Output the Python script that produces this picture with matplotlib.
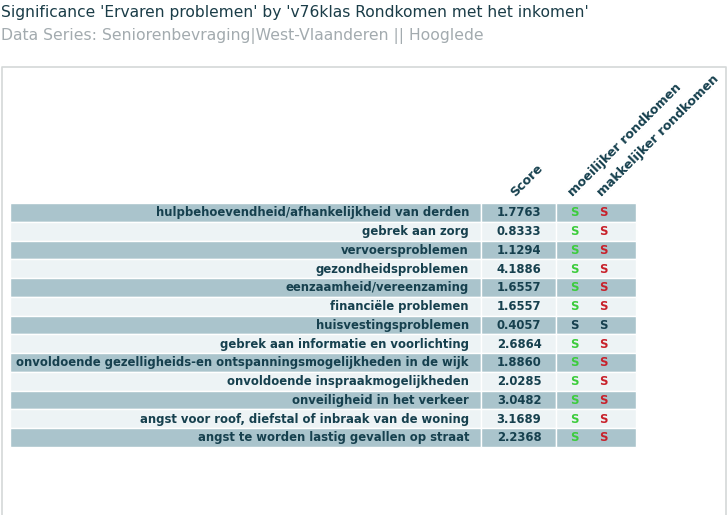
import matplotlib
matplotlib.use("Agg")
import matplotlib.pyplot as plt
from matplotlib.patches import Rectangle

title = "Significance 'Ervaren problemen' by 'v76klas Rondkomen met het inkomen'"
subtitle = "Data Series: Seniorenbevraging|West-Vlaanderen || Hooglede"

categories = [
    "hulpbehoevendheid/afhankelijkheid van derden",
    "gebrek aan zorg",
    "vervoersproblemen",
    "gezondheidsproblemen",
    "eenzaamheid/vereenzaming",
    "financiële problemen",
    "huisvestingsproblemen",
    "gebrek aan informatie en voorlichting",
    "onvoldoende gezelligheids-en ontspanningsmogelijkheden in de wijk",
    "onvoldoende inspraakmogelijkheden",
    "onveiligheid in het verkeer",
    "angst voor roof, diefstal of inbraak van de woning",
    "angst te worden lastig gevallen op straat",
]
scores = [1.7763, 0.8333, 1.1294, 4.1886, 1.6557, 1.6557, 0.4057,
          2.6864, 1.8860, 2.0285, 3.0482, 3.1689, 2.2368]
groups = ["moeilijker rondkomen", "makkelijker rondkomen"]
# significance: 'up' = green, 'down' = red, 'ns' = neutral
sig_moeilijker = ["up"] * 6 + ["ns"] + ["up"] * 6
sig_makkelijker = ["down"] * 6 + ["ns"] + ["down"] * 6

W, H = 728, 515
fig = plt.figure(figsize=(W / 100, H / 100), dpi=100)
ax = fig.add_axes([0, 0, 1, 1])
ax.set_xlim(0, W)
ax.set_ylim(H, 0)
ax.axis("off")

txt = "#16404e"
dark = "#aac4cc"
light = "#edf3f5"
green = "#3ccc3c"
red = "#c8202a"

ax.text(1, 12, title, color="#1b3d48", fontsize=11.2, va="center", ha="left")
ax.text(1, 36, subtitle, color="#a3abaf", fontsize=11.25, va="center", ha="left")

# panel border
ax.plot([1.5, 1.5, 725.5, 725.5], [H, 66.5, 66.5, H], color="#d4d8d8", lw=1.2)

y0 = 203.0
rh = 18.75
x_lab0, x_lab1 = 10, 481
x_sc1 = 556
x_sig1 = 636
col_sig = [574, 603]
colmap = {"up": green, "down": red, "ns": txt}
fs = 8.4

for i, cat in enumerate(categories):
    y = y0 + i * rh
    fc = dark if i % 2 == 0 else light
    for (a, b) in [(x_lab0, x_lab1), (x_lab1, x_sc1), (x_sc1, x_sig1)]:
        ax.add_patch(Rectangle((a, y), b - a, rh, facecolor=fc,
                               edgecolor="white", lw=1.0))
    yc = y + rh / 2 + 0.5
    ax.text(469, yc, cat, ha="right", va="center", fontsize=fs,
            fontweight="bold", color=txt)
    ax.text(519, yc, f"{scores[i]:.4f}", ha="center", va="center",
            fontsize=fs, fontweight="bold", color=txt)
    for j, s in enumerate([sig_moeilijker[i], sig_makkelijker[i]]):
        ax.text(col_sig[j], yc, "S", ha="center", va="center", fontsize=fs,
                fontweight="bold", color=colmap[s])

# rotated headers
hfs = 9.1
ax.text(517, 199, "Score", rotation=45, rotation_mode="anchor", ha="left",
        va="bottom", fontsize=hfs, fontweight="bold", color=txt)
for j, g in enumerate(groups):
    ax.text(col_sig[j] + 1, 199, g, rotation=45, rotation_mode="anchor",
            ha="left", va="bottom", fontsize=hfs, fontweight="bold", color=txt)

fig.savefig("out.png", dpi=100, facecolor="white")
